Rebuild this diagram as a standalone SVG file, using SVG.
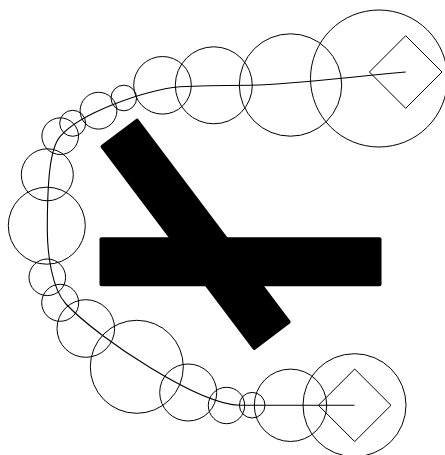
<svg xmlns="http://www.w3.org/2000/svg" width="445" height="455" viewBox="0 0 445 455">
<style>
.c{fill:none;stroke:#000;stroke-width:1}
.n{fill:none;stroke:#000;stroke-width:1}
.bar{fill:#000}
.e{fill:none;stroke:#000;stroke-width:1.1}
</style>
<rect width="445" height="455" fill="#fff"/>
<g id="obstacles">
<rect class="bar" x="-128" y="-23.5" width="256" height="47" rx="2" transform="translate(195.6,234.3) rotate(53)"/>
<rect class="bar" x="99.5" y="237.3" width="282" height="49" rx="2"/>
</g>
<g id="circles">
<circle class="c" cx="379" cy="78.5" r="68.5"/>
<circle class="c" cx="290.5" cy="85" r="51.2"/>
<circle class="c" cx="213.8" cy="85.3" r="38.5"/>
<circle class="c" cx="162.5" cy="85.3" r="28.8"/>
<circle class="c" cx="123.8" cy="98" r="12.8"/>
<circle class="c" cx="98.5" cy="110.7" r="18.4"/>
<circle class="c" cx="72.7" cy="123.3" r="13"/>
<circle class="c" cx="60.2" cy="136.2" r="18.3"/>
<circle class="c" cx="47.3" cy="174.8" r="26"/>
<circle class="c" cx="46.8" cy="225.7" r="38.5"/>
<circle class="c" cx="47.3" cy="277.3" r="18.3"/>
<circle class="c" cx="60.2" cy="302.8" r="18.5"/>
<circle class="c" cx="85.8" cy="328.5" r="28.8"/>
<circle class="c" cx="136.8" cy="366.8" r="46.5"/>
<circle class="c" cx="188.2" cy="392.5" r="28.5"/>
<circle class="c" cx="226.5" cy="405.5" r="18.2"/>
<circle class="c" cx="252.2" cy="405.2" r="12.8"/>
<circle class="c" cx="290.5" cy="405.3" r="36.2"/>
<circle class="c" cx="354.5" cy="405.2" r="51.5"/>
</g>
<g id="connectors">
<path class="e" d="M405.7,72 C340,78 300,84 250,85.3 C225,85.5 200,85.8 180,86.7 C145,90 80,113 60,136.7 C50,148.5 47.3,180 47.3,230 C47.5,255 52,289 66,304 C100,340 200,405 240,405.3 L354.5,405.3"/>
</g>
<g id="node-start">
<polygon class="n" points="405.7,35.7 442,72 405.7,108.3 369.4,72"/>
</g>
<g id="node-end">
<polygon class="n" points="354.7,369 391,405.3 354.7,441.6 318.4,405.3"/>
</g>
</svg>
